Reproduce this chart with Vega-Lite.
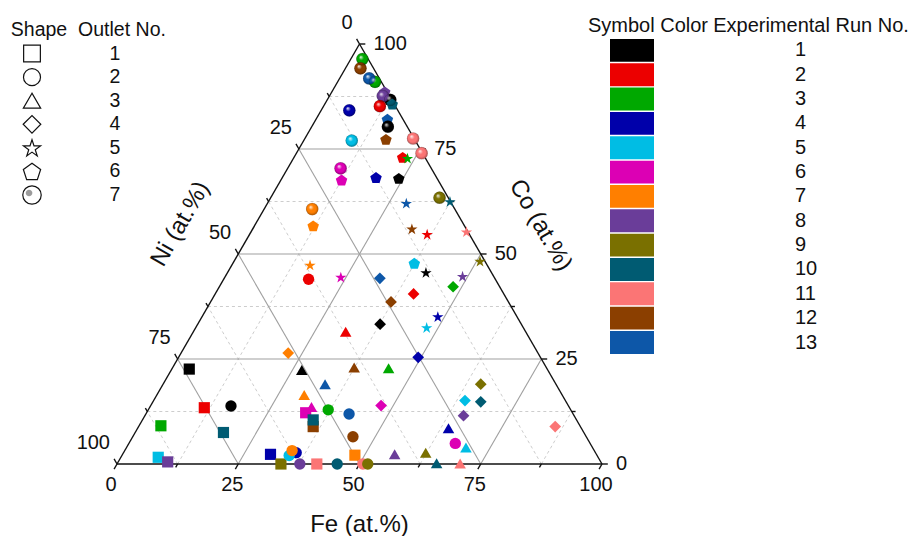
{
  "$schema": "https://vega.github.io/schema/vega-lite/v6.json",
  "width": 485,
  "height": 420,
  "autosize": "none",
  "padding": {"left": 117, "top": 44, "right": 307, "bottom": 72},
  "background": "white",
  "config": {"font": "Liberation Sans", "view": {"stroke": null}},
  "datasets": {
    "lines": [
      {"k": "minor", "Fe1": 12.5, "Co1": 0, "Fe2": 12.5, "Co2": 87.5},
      {"k": "minor", "Fe1": 37.5, "Co1": 0, "Fe2": 37.5, "Co2": 62.5},
      {"k": "minor", "Fe1": 62.5, "Co1": 0, "Fe2": 62.5, "Co2": 37.5},
      {"k": "minor", "Fe1": 87.5, "Co1": 0, "Fe2": 87.5, "Co2": 12.5},
      {"k": "minor", "Fe1": 0, "Co1": 12.5, "Fe2": 87.5, "Co2": 12.5},
      {"k": "minor", "Fe1": 0, "Co1": 37.5, "Fe2": 62.5, "Co2": 37.5},
      {"k": "minor", "Fe1": 0, "Co1": 62.5, "Fe2": 37.5, "Co2": 62.5},
      {"k": "minor", "Fe1": 0, "Co1": 87.5, "Fe2": 12.5, "Co2": 87.5},
      {"k": "minor", "Fe1": 87.5, "Co1": 0, "Fe2": 0, "Co2": 87.5},
      {"k": "minor", "Fe1": 62.5, "Co1": 0, "Fe2": 0, "Co2": 62.5},
      {"k": "minor", "Fe1": 37.5, "Co1": 0, "Fe2": 0, "Co2": 37.5},
      {"k": "minor", "Fe1": 12.5, "Co1": 0, "Fe2": 0, "Co2": 12.5},
      {"k": "major", "Fe1": 25, "Co1": 0, "Fe2": 25, "Co2": 75},
      {"k": "major", "Fe1": 50, "Co1": 0, "Fe2": 50, "Co2": 50},
      {"k": "major", "Fe1": 75, "Co1": 0, "Fe2": 75, "Co2": 25},
      {"k": "major", "Fe1": 0, "Co1": 25, "Fe2": 75, "Co2": 25},
      {"k": "major", "Fe1": 0, "Co1": 50, "Fe2": 50, "Co2": 50},
      {"k": "major", "Fe1": 0, "Co1": 75, "Fe2": 25, "Co2": 75},
      {"k": "major", "Fe1": 75, "Co1": 0, "Fe2": 0, "Co2": 75},
      {"k": "major", "Fe1": 50, "Co1": 0, "Fe2": 0, "Co2": 50},
      {"k": "major", "Fe1": 25, "Co1": 0, "Fe2": 0, "Co2": 25},
      {"k": "edge", "Fe1": 0, "Co1": 0, "Fe2": 100, "Co2": 0},
      {"k": "edge", "Fe1": 100, "Co1": 0, "Fe2": 0, "Co2": 100},
      {"k": "edge", "Fe1": 0, "Co1": 100, "Fe2": 0, "Co2": 0},
      {"k": "tick", "Fe1": 0, "Co1": 0, "Fe2": 0, "Co2": -1.2},
      {"k": "tick", "Fe1": 12.5, "Co1": 0, "Fe2": 12.5, "Co2": -0.8},
      {"k": "tick", "Fe1": 25, "Co1": 0, "Fe2": 25, "Co2": -1.2},
      {"k": "tick", "Fe1": 37.5, "Co1": 0, "Fe2": 37.5, "Co2": -0.8},
      {"k": "tick", "Fe1": 50, "Co1": 0, "Fe2": 50, "Co2": -1.2},
      {"k": "tick", "Fe1": 62.5, "Co1": 0, "Fe2": 62.5, "Co2": -0.8},
      {"k": "tick", "Fe1": 75, "Co1": 0, "Fe2": 75, "Co2": -1.2},
      {"k": "tick", "Fe1": 87.5, "Co1": 0, "Fe2": 87.5, "Co2": -0.8},
      {"k": "tick", "Fe1": 100, "Co1": 0, "Fe2": 100, "Co2": -1.2},
      {"k": "tick", "Fe1": 0, "Co1": 100, "Fe2": -1.2, "Co2": 101.2},
      {"k": "tick", "Fe1": 0, "Co1": 87.5, "Fe2": -0.8, "Co2": 88.3},
      {"k": "tick", "Fe1": 0, "Co1": 75, "Fe2": -1.2, "Co2": 76.2},
      {"k": "tick", "Fe1": 0, "Co1": 62.5, "Fe2": -0.8, "Co2": 63.3},
      {"k": "tick", "Fe1": 0, "Co1": 50, "Fe2": -1.2, "Co2": 51.2},
      {"k": "tick", "Fe1": 0, "Co1": 37.5, "Fe2": -0.8, "Co2": 38.3},
      {"k": "tick", "Fe1": 0, "Co1": 25, "Fe2": -1.2, "Co2": 26.2},
      {"k": "tick", "Fe1": 0, "Co1": 12.5, "Fe2": -0.8, "Co2": 13.3},
      {"k": "tick", "Fe1": 0, "Co1": 0, "Fe2": -1.2, "Co2": 1.2},
      {"k": "tick", "Fe1": 100, "Co1": 0, "Fe2": 101.2, "Co2": 0},
      {"k": "tick", "Fe1": 87.5, "Co1": 12.5, "Fe2": 88.3, "Co2": 12.5},
      {"k": "tick", "Fe1": 75, "Co1": 25, "Fe2": 76.2, "Co2": 25},
      {"k": "tick", "Fe1": 62.5, "Co1": 37.5, "Fe2": 63.3, "Co2": 37.5},
      {"k": "tick", "Fe1": 50, "Co1": 50, "Fe2": 51.2, "Co2": 50},
      {"k": "tick", "Fe1": 37.5, "Co1": 62.5, "Fe2": 38.3, "Co2": 62.5},
      {"k": "tick", "Fe1": 25, "Co1": 75, "Fe2": 26.2, "Co2": 75},
      {"k": "tick", "Fe1": 12.5, "Co1": 87.5, "Fe2": 13.3, "Co2": 87.5},
      {"k": "tick", "Fe1": 0, "Co1": 100, "Fe2": 1.2, "Co2": 100}
    ],
    "labels": [
      {"a": "Fe", "t": "0", "Fe": 0, "Co": 0},
      {"a": "Fe", "t": "25", "Fe": 25, "Co": 0},
      {"a": "Fe", "t": "50", "Fe": 50, "Co": 0},
      {"a": "Fe", "t": "75", "Fe": 75, "Co": 0},
      {"a": "Fe", "t": "100", "Fe": 100, "Co": 0},
      {"a": "Ni", "t": "0", "Fe": 0, "Co": 100},
      {"a": "Ni", "t": "25", "Fe": 0, "Co": 75},
      {"a": "Ni", "t": "50", "Fe": 0, "Co": 50},
      {"a": "Ni", "t": "75", "Fe": 0, "Co": 25},
      {"a": "Ni", "t": "100", "Fe": 0, "Co": 0},
      {"a": "Co", "t": "0", "Fe": 100, "Co": 0},
      {"a": "Co", "t": "25", "Fe": 75, "Co": 25},
      {"a": "Co", "t": "50", "Fe": 50, "Co": 50},
      {"a": "Co", "t": "75", "Fe": 25, "Co": 75},
      {"a": "Co", "t": "100", "Fe": 0, "Co": 100},
      {"a": "TFe", "t": "Fe (at.%)", "Fe": 50, "Co": 0},
      {"a": "TNi", "t": "Ni (at.%)", "Fe": 0, "Co": 50},
      {"a": "TCo", "t": "Co (at.%)", "Fe": 50, "Co": 50}
    ],
    "pts": [
      {"o": 7, "r": 3, "Fe": 2.4, "Co": 96.4},
      {"o": 7, "r": 12, "Fe": 3.1, "Co": 94.2},
      {"o": 7, "r": 3, "Fe": 7.7, "Co": 91.0},
      {"o": 7, "r": 13, "Fe": 6.1, "Co": 91.8},
      {"o": 7, "r": 1, "Fe": 13.0, "Co": 86.7},
      {"o": 6, "r": 8, "Fe": 10.9, "Co": 88.6},
      {"o": 7, "r": 8, "Fe": 11.0, "Co": 87.6},
      {"o": 6, "r": 10, "Fe": 13.9, "Co": 85.7},
      {"o": 7, "r": 2, "Fe": 11.6, "Co": 85.2},
      {"o": 7, "r": 4, "Fe": 5.8, "Co": 84.2},
      {"o": 6, "r": 13, "Fe": 14.7, "Co": 82.1},
      {"o": 7, "r": 1, "Fe": 15.7, "Co": 80.3},
      {"o": 7, "r": 5, "Fe": 9.9, "Co": 77.0},
      {"o": 6, "r": 12, "Fe": 16.8, "Co": 77.3},
      {"o": 7, "r": 11, "Fe": 22.3, "Co": 77.5},
      {"o": 7, "r": 11, "Fe": 25.8, "Co": 74.0},
      {"o": 6, "r": 2, "Fe": 22.4, "Co": 73.0},
      {"o": 5, "r": 3, "Fe": 23.5, "Co": 72.8},
      {"o": 7, "r": 6, "Fe": 10.9, "Co": 70.4},
      {"o": 6, "r": 6, "Fe": 12.5, "Co": 67.6},
      {"o": 6, "r": 4, "Fe": 19.3, "Co": 68.2},
      {"o": 6, "r": 1, "Fe": 24.1, "Co": 68.0},
      {"o": 7, "r": 9, "Fe": 34.8, "Co": 63.4},
      {"o": 7, "r": 7, "Fe": 9.9, "Co": 60.7},
      {"o": 6, "r": 7, "Fe": 12.1, "Co": 56.7},
      {"o": 6, "r": 5, "Fe": 37.4, "Co": 47.8},
      {"o": 5, "r": 13, "Fe": 28.6, "Co": 62.1},
      {"o": 5, "r": 10, "Fe": 37.4, "Co": 62.5},
      {"o": 5, "r": 12, "Fe": 32.8, "Co": 56.0},
      {"o": 5, "r": 2, "Fe": 36.6, "Co": 54.7},
      {"o": 5, "r": 11, "Fe": 44.4, "Co": 55.3},
      {"o": 5, "r": 9, "Fe": 50.7, "Co": 48.3},
      {"o": 5, "r": 7, "Fe": 16.1, "Co": 47.4},
      {"o": 5, "r": 6, "Fe": 23.9, "Co": 44.5},
      {"o": 5, "r": 1, "Fe": 40.9, "Co": 45.6},
      {"o": 5, "r": 8, "Fe": 48.9, "Co": 44.7},
      {"o": 5, "r": 4, "Fe": 48.6, "Co": 35.1},
      {"o": 5, "r": 5, "Fe": 47.6, "Co": 32.5},
      {"o": 4, "r": 7, "Fe": 22.1, "Co": 26.4},
      {"o": 4, "r": 13, "Fe": 32.1, "Co": 44.2},
      {"o": 4, "r": 2, "Fe": 40.9, "Co": 40.5},
      {"o": 4, "r": 3, "Fe": 48.2, "Co": 42.2},
      {"o": 4, "r": 12, "Fe": 37.2, "Co": 38.6},
      {"o": 4, "r": 1, "Fe": 37.6, "Co": 33.3},
      {"o": 4, "r": 4, "Fe": 49.4, "Co": 25.4},
      {"o": 4, "r": 6, "Fe": 47.5, "Co": 13.9},
      {"o": 4, "r": 9, "Fe": 65.5, "Co": 19.0},
      {"o": 4, "r": 5, "Fe": 64.2, "Co": 15.1},
      {"o": 4, "r": 10, "Fe": 67.6, "Co": 14.8},
      {"o": 4, "r": 8, "Fe": 65.7, "Co": 11.5},
      {"o": 4, "r": 11, "Fe": 85.9, "Co": 8.9},
      {"o": 3, "r": 1, "Fe": 26.9, "Co": 22.4},
      {"o": 3, "r": 12, "Fe": 37.4, "Co": 23.0},
      {"o": 3, "r": 3, "Fe": 44.6, "Co": 22.8},
      {"o": 3, "r": 2, "Fe": 31.4, "Co": 31.5},
      {"o": 3, "r": 13, "Fe": 33.4, "Co": 19.0},
      {"o": 3, "r": 7, "Fe": 30.4, "Co": 16.4},
      {"o": 3, "r": 6, "Fe": 33.3, "Co": 13.6},
      {"o": 3, "r": 8, "Fe": 56.1, "Co": 2.3},
      {"o": 3, "r": 9, "Fe": 62.3, "Co": 2.7},
      {"o": 3, "r": 10, "Fe": 65.8, "Co": 0.2},
      {"o": 3, "r": 11, "Fe": 70.7, "Co": 0.1},
      {"o": 3, "r": 5, "Fe": 70.0, "Co": 3.9},
      {"o": 3, "r": 4, "Fe": 64.1, "Co": 8.5},
      {"o": 1, "r": 1, "Fe": 3.6, "Co": 22.6},
      {"o": 1, "r": 2, "Fe": 11.3, "Co": 13.4},
      {"o": 1, "r": 3, "Fe": 4.5, "Co": 9.1},
      {"o": 1, "r": 10, "Fe": 18.2, "Co": 7.5},
      {"o": 1, "r": 5, "Fe": 7.7, "Co": 1.6},
      {"o": 1, "r": 8, "Fe": 10.2, "Co": 0.5},
      {"o": 1, "r": 4, "Fe": 30.5, "Co": 2.3},
      {"o": 1, "r": 9, "Fe": 33.8, "Co": 0.0},
      {"o": 1, "r": 11, "Fe": 41.2, "Co": 0.0},
      {"o": 1, "r": 7, "Fe": 48.0, "Co": 2.1},
      {"o": 1, "r": 6, "Fe": 32.8, "Co": 12.2},
      {"o": 1, "r": 12, "Fe": 36.0, "Co": 8.9},
      {"o": 1, "r": 10, "Fe": 35.2, "Co": 10.5},
      {"o": 2, "r": 2, "Fe": 17.5, "Co": 44.0},
      {"o": 2, "r": 1, "Fe": 16.6, "Co": 13.8},
      {"o": 2, "r": 3, "Fe": 37.1, "Co": 12.9},
      {"o": 2, "r": 13, "Fe": 41.9, "Co": 11.9},
      {"o": 2, "r": 12, "Fe": 45.4, "Co": 6.5},
      {"o": 2, "r": 4, "Fe": 35.6, "Co": 2.7},
      {"o": 2, "r": 5, "Fe": 34.5, "Co": 2.0},
      {"o": 2, "r": 7, "Fe": 34.5, "Co": 3.2},
      {"o": 2, "r": 8, "Fe": 37.7, "Co": 0.0},
      {"o": 2, "r": 10, "Fe": 45.4, "Co": 0.0},
      {"o": 2, "r": 11, "Fe": 50.7, "Co": 0.0},
      {"o": 2, "r": 9, "Fe": 51.7, "Co": 0.0},
      {"o": 2, "r": 6, "Fe": 67.3, "Co": 4.9}
    ],
    "legL": [
      {"row": 1, "o": 1}, {"row": 2, "o": 2}, {"row": 3, "o": 3}, {"row": 4, "o": 4},
      {"row": 5, "o": 5}, {"row": 6, "o": 6}, {"row": 7, "o": 7}
    ],
    "legR": [
      {"row": 1, "r": 1}, {"row": 2, "r": 2}, {"row": 3, "r": 3}, {"row": 4, "r": 4},
      {"row": 5, "r": 5}, {"row": 6, "r": 6}, {"row": 7, "r": 7}, {"row": 8, "r": 8},
      {"row": 9, "r": 9}, {"row": 10, "r": 10}, {"row": 11, "r": 11}, {"row": 12, "r": 12},
      {"row": 13, "r": 13}
    ]
  },
  "layer": [
    {
      "layer": [
        {
          "data": {"name": "lines"},
          "transform": [
            {"calculate": "datum.Fe1 + datum.Co1 / 2", "as": "x1"},
            {"calculate": "datum.Co1 * 0.8660254", "as": "y1"},
            {"calculate": "datum.Fe2 + datum.Co2 / 2", "as": "x2"},
            {"calculate": "datum.Co2 * 0.8660254", "as": "y2"}
          ],
          "encoding": {
            "x": {"field": "x1", "type": "quantitative", "scale": {"domain": [0, 100], "nice": false, "zero": false}, "axis": null},
            "y": {"field": "y1", "type": "quantitative", "scale": {"domain": [0, 86.60254], "nice": false, "zero": false}, "axis": null},
            "x2": {"field": "x2"},
            "y2": {"field": "y2"}
          },
          "layer": [
            {"transform": [{"filter": "datum.k === 'minor'"}], "mark": {"type": "rule", "color": "#cdcdcd", "strokeWidth": 1, "strokeDash": [3, 3]}},
            {"transform": [{"filter": "datum.k === 'major'"}], "mark": {"type": "rule", "color": "#a0a0a0", "strokeWidth": 1.1}},
            {"transform": [{"filter": "datum.k === 'edge' || datum.k === 'tick'"}], "mark": {"type": "rule", "color": "#111111", "strokeWidth": 1.4}}
          ]
        },
        {
          "data": {"name": "pts"},
          "transform": [
            {"calculate": "datum.Fe + datum.Co / 2", "as": "x"},
            {"calculate": "datum.Co * 0.8660254", "as": "y"}
          ],
          "encoding": {
            "x": {"field": "x", "type": "quantitative", "scale": {"domain": [0, 100], "nice": false, "zero": false}, "axis": null},
            "y": {"field": "y", "type": "quantitative", "scale": {"domain": [0, 86.60254], "nice": false, "zero": false}, "axis": null}
          },
          "layer": [
            {
              "mark": {"type": "point", "filled": true, "opacity": 1, "strokeWidth": 0},
              "encoding": {
                "shape": {"field": "o", "type": "nominal", "legend": null, "scale": {"domain": [1, 2, 3, 4, 5, 6, 7], "range": ["square", "circle", "triangle-up", "diamond", "M0,-0.905L0.2245,-0.214L0.9511,-0.214L0.3633,0.213L0.5878,0.904L0,0.477L-0.5878,0.904L-0.3633,0.213L-0.9511,-0.214L-0.2245,-0.214Z", "M0,-0.905L0.9511,-0.214L0.5878,0.904L-0.5878,0.904L-0.9511,-0.214Z", "circle"]}},
                "size": {"field": "o", "type": "ordinal", "legend": null, "scale": {"domain": [1, 2, 3, 4, 5, 6, 7], "range": [125, 150, 175, 190, 250, 175, 160]}},
                "color": {"field": "r", "type": "nominal", "legend": null, "scale": {"domain": [1, 2, 3, 4, 5, 6, 7, 8, 9, 10, 11, 12, 13], "range": ["#000000", "#ec0000", "#00a800", "#0000aa", "#00bde4", "#dc00b4", "#ff7f00", "#6a3d99", "#7a7000", "#005b72", "#fb7575", "#8b3f00", "#0d57a8"]}}
              }
            },
            {
              "transform": [{"filter": "datum.o === 7"}],
              "mark": {"type": "point", "shape": "circle", "size": 160, "filled": true, "opacity": 1, "strokeWidth": 0,
                "fill": {"gradient": "radial", "x1": 0.36, "y1": 0.32, "r1": 0, "x2": 0.5, "y2": 0.5, "r2": 0.5,
                  "stops": [{"offset": 0, "color": "rgba(255,255,255,0.95)"}, {"offset": 0.4, "color": "rgba(255,255,255,0)"}, {"offset": 0.7, "color": "rgba(0,0,0,0)"}, {"offset": 1, "color": "rgba(0,0,0,0.35)"}]}}
            }
          ]
        },
        {
          "data": {"name": "labels"},
          "transform": [
            {"calculate": "datum.Fe + datum.Co / 2", "as": "x"},
            {"calculate": "datum.Co * 0.8660254", "as": "y"}
          ],
          "encoding": {
            "x": {"field": "x", "type": "quantitative", "scale": {"domain": [0, 100], "nice": false, "zero": false}, "axis": null},
            "y": {"field": "y", "type": "quantitative", "scale": {"domain": [0, 86.60254], "nice": false, "zero": false}, "axis": null},
            "text": {"field": "t"}
          },
          "layer": [
            {"transform": [{"filter": "datum.a === 'Fe'"}], "mark": {"type": "text", "fontSize": 20, "align": "center", "baseline": "middle", "dx": -6, "dy": 21, "color": "#111111"}},
            {"transform": [{"filter": "datum.a === 'Ni'"}], "mark": {"type": "text", "fontSize": 20, "align": "right", "baseline": "middle", "dx": -7, "dy": -21.5, "color": "#111111"}},
            {"transform": [{"filter": "datum.a === 'Co'"}], "mark": {"type": "text", "fontSize": 20, "align": "left", "baseline": "middle", "dx": 14, "dy": 0, "color": "#111111"}},
            {"transform": [{"filter": "datum.a === 'TFe'"}], "mark": {"type": "text", "fontSize": 24, "align": "center", "baseline": "middle", "dy": 61, "color": "#111111"}},
            {"transform": [{"filter": "datum.a === 'TNi'"}], "mark": {"type": "text", "fontSize": 24, "align": "center", "baseline": "middle", "angle": 300, "dx": -3, "dy": -65, "color": "#111111"}},
            {"transform": [{"filter": "datum.a === 'TCo'"}], "mark": {"type": "text", "fontSize": 24, "align": "center", "baseline": "middle", "angle": 60, "dx": 5, "dy": -66, "color": "#111111"}}
          ]
        }
      ]
    },
    {
      "encoding": {
        "y": {"field": "row", "type": "quantitative", "axis": null, "scale": {"domain": [0, 7], "range": [-14, 151], "nice": false, "zero": false}}
      },
      "layer": [
        {
          "data": {"values": [{"c": "shape", "row": 0, "t": "Shape"}, {"c": "outlet", "row": 0, "t": "Outlet No."}]},
          "mark": {"type": "text", "fontSize": 19.5, "align": "center", "baseline": "middle", "dx": 7, "color": "#111111"},
          "encoding": {
            "x": {"field": "c", "type": "nominal", "axis": null, "scale": {"domain": ["shape", "outlet"], "range": [-85, -2], "padding": 0}},
            "text": {"field": "t"}
          }
        },
        {
          "data": {"name": "legL"},
          "mark": {"type": "point", "filled": false, "opacity": 1, "stroke": "#111111", "strokeWidth": 1.2},
          "encoding": {
            "x": {"datum": "shape", "type": "nominal", "axis": null, "scale": {"domain": ["shape", "outlet"], "range": [-85, -2], "padding": 0}},
            "shape": {"field": "o", "type": "nominal", "legend": null, "scale": {"domain": [1, 2, 3, 4, 5, 6, 7], "range": ["square", "circle", "triangle-up", "diamond", "M0,-0.905L0.2245,-0.214L0.9511,-0.214L0.3633,0.213L0.5878,0.904L0,0.477L-0.5878,0.904L-0.3633,0.213L-0.9511,-0.214L-0.2245,-0.214Z", "M0,-0.905L0.9511,-0.214L0.5878,0.904L-0.5878,0.904L-0.9511,-0.214Z", "circle"]}},
            "size": {"field": "o", "type": "ordinal", "legend": null, "scale": {"domain": [1, 2, 3, 4, 5, 6, 7], "range": [280, 340, 440, 480, 420, 400, 340]}}
          }
        },
        {
          "data": {"name": "legL"},
          "transform": [{"filter": "datum.o === 7"}],
          "mark": {"type": "point", "filled": true, "opacity": 0.75, "color": "#7a7a7a", "strokeWidth": 0, "size": 340,
            "shape": "M-0.68,-0.22A0.36,0.36 0 1,1 0.04,-0.22A0.36,0.36 0 1,1 -0.68,-0.22Z"},
          "encoding": {
            "x": {"datum": "shape", "type": "nominal", "axis": null, "scale": {"domain": ["shape", "outlet"], "range": [-85, -2], "padding": 0}}
          }
        },
        {
          "data": {"name": "legL"},
          "mark": {"type": "text", "fontSize": 19.5, "align": "center", "baseline": "middle", "color": "#111111"},
          "encoding": {
            "x": {"datum": "outlet", "type": "nominal", "axis": null, "scale": {"domain": ["shape", "outlet"], "range": [-85, -2], "padding": 0}},
            "text": {"field": "o"}
          }
        }
      ]
    },
    {
      "encoding": {
        "y": {"field": "row", "type": "quantitative", "axis": null, "scale": {"domain": [0, 13], "range": [-18, 298.5], "nice": false, "zero": false}}
      },
      "layer": [
        {
          "data": {"values": [{"c": "color", "row": 0, "t": "Symbol Color"}, {"c": "run", "row": 0, "t": "Experimental Run No."}]},
          "mark": {"type": "text", "fontSize": 20, "align": "center", "baseline": "middle", "dx": 16, "color": "#111111"},
          "encoding": {
            "x": {"field": "c", "type": "nominal", "axis": null, "scale": {"domain": ["color", "run"], "range": [515, 678], "padding": 0}},
            "text": {"field": "t"}
          }
        },
        {
          "data": {"name": "legR"},
          "mark": {"type": "point", "filled": true, "opacity": 1, "strokeWidth": 0, "size": 1936, "shape": "M-1,-0.52L1,-0.52L1,0.52L-1,0.52Z"},
          "encoding": {
            "x": {"datum": "color", "type": "nominal", "axis": null, "scale": {"domain": ["color", "run"], "range": [515, 678], "padding": 0}},
            "color": {"field": "r", "type": "nominal", "legend": null, "scale": {"domain": [1, 2, 3, 4, 5, 6, 7, 8, 9, 10, 11, 12, 13], "range": ["#000000", "#ec0000", "#00a800", "#0000aa", "#00bde4", "#dc00b4", "#ff7f00", "#6a3d99", "#7a7000", "#005b72", "#fb7575", "#8b3f00", "#0d57a8"]}}
          }
        },
        {
          "data": {"name": "legR"},
          "mark": {"type": "text", "fontSize": 20, "align": "left", "baseline": "middle", "color": "#111111"},
          "encoding": {
            "x": {"datum": "run", "type": "nominal", "axis": null, "scale": {"domain": ["color", "run"], "range": [515, 678], "padding": 0}},
            "text": {"field": "r"}
          }
        }
      ]
    }
  ],
  "resolve": {"scale": {"x": "independent", "y": "independent", "color": "independent", "shape": "independent", "size": "independent"}}
}
